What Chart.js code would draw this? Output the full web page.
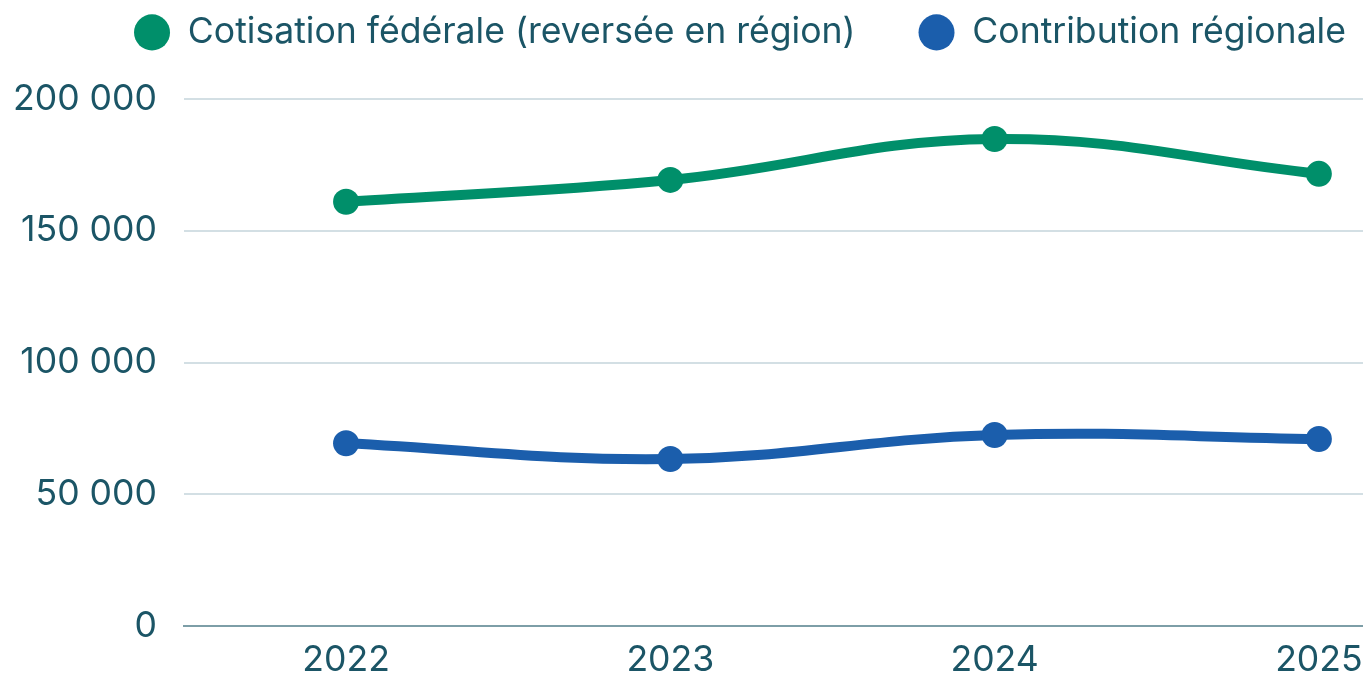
<!DOCTYPE html>
<html lang="fr">
<head>
<meta charset="utf-8">
<script src="https://cdn.jsdelivr.net/npm/chart.js@4/dist/chart.umd.min.js"></script>
<style>
  html, body { margin: 0; padding: 0; overflow: hidden; background: #fff; }
  #wrap { width: 1494px; height: 694px; }
</style>
</head>
<body>
<div id="wrap"><canvas id="cotisChart" width="1494" height="694"></canvas></div>
<script>
const years = ["2022", "2023", "2024", "2025"];
const cotisationFederale = [161000, 169300, 184800, 171600];
const contributionRegionale = [69400, 63400, 72500, 71000];
const yTicks = [0, 50000, 100000, 150000, 200000];

const textColor = "#1b5566";
const fontSize = 35.6;

// agrandit la légende pour laisser de l'espace au-dessus du graphique
const legendSpace = {
  id: "legendSpace",
  beforeInit(chart) {
    const fit = chart.legend.fit;
    chart.legend.fit = function () {
      fit.bind(chart.legend)();
      this.height = 147.4;
    };
  },
};

new Chart(document.getElementById("cotisChart"), {
  type: "line",
  data: {
    labels: years,
    datasets: [
      {
        label: "Cotisation fédérale (reversée en région)",
        data: cotisationFederale,
        borderColor: "#008f6a",
        backgroundColor: "#008f6a",
        borderWidth: 10,
        pointRadius: 13,
        pointBorderWidth: 0,
        tension: 0.4,
        fill: false,
      },
      {
        label: "Contribution régionale",
        data: contributionRegionale,
        borderColor: "#1b5eac",
        backgroundColor: "#1b5eac",
        borderWidth: 10,
        pointRadius: 13,
        pointBorderWidth: 0,
        tension: 0.4,
        fill: false,
      },
    ],
  },
  options: {
    responsive: false,
    animation: false,
    layout: {
      padding: { top: -48.4, left: -14, right: 0, bottom: 0 },
    },
    plugins: {
      legend: {
        display: true,
        position: "top",
        labels: {
          usePointStyle: true,
          pointStyle: "circle",
          pointStyleWidth: 36,
          boxHeight: 25.5,
          padding: 63,
          color: textColor,
          font: { family: "Inter", size: fontSize },
        },
      },
      tooltip: { enabled: false },
    },
    scales: {
      x: {
        offset: true,
        grid: { display: false, drawTicks: false },
        border: { display: true, color: "#7d9ea7", width: 2 },
        ticks: {
          color: textColor,
          padding: 12.6,
          font: { family: "Inter", size: fontSize },
        },
      },
      y: {
        min: yTicks[0],
        max: yTicks[yTicks.length - 1],
        afterBuildTicks(axis) {
          axis.ticks = yTicks.map((v) => ({ value: v }));
        },
        grid: { color: "#d3dfe4", lineWidth: 2, drawTicks: false },
        border: { display: false },
        ticks: {
          color: textColor,
          padding: 27,
          font: { family: "Inter", size: fontSize },
          callback: (v) => String(v).replace(/\B(?=(\d{3})+(?!\d))/g, " "),
        },
      },
    },
  },
  plugins: [legendSpace],
});
</script>
</body>
</html>
